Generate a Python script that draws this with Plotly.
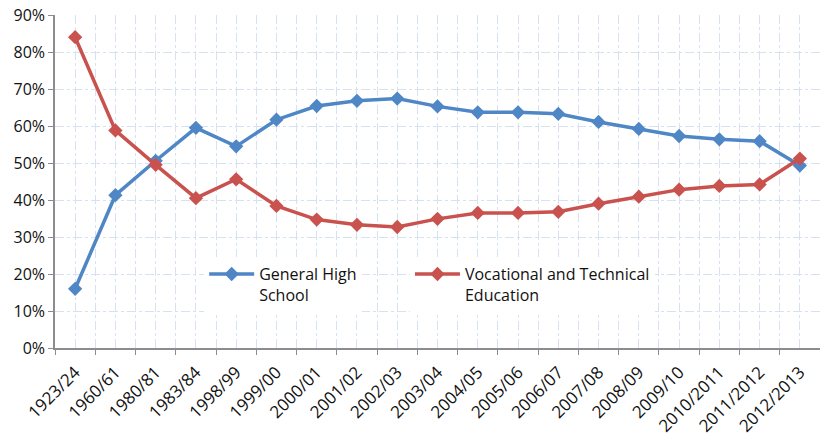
import plotly.graph_objects as go

categories = ["1923/24", "1960/61", "1980/81", "1983/84", "1998/99", "1999/00",
              "2000/01", "2001/02", "2002/03", "2003/04", "2004/05", "2005/06",
              "2006/07", "2007/08", "2008/09", "2009/10", "2010/2011", "2011/2012",
              "2012/2013"]
general_high_school = [0.16, 0.413, 0.506, 0.595, 0.545, 0.617, 0.654, 0.668, 0.674,
                       0.653, 0.637, 0.637, 0.633, 0.611, 0.592, 0.573, 0.564, 0.559, 0.493]
vocational_technical = [0.84, 0.588, 0.495, 0.405, 0.456, 0.384, 0.347, 0.333, 0.327,
                        0.349, 0.365, 0.365, 0.368, 0.39, 0.409, 0.428, 0.438, 0.442, 0.512]
y_ticks = [0.0, 0.1, 0.2, 0.3, 0.4, 0.5, 0.6, 0.7, 0.8, 0.9]

FONT = "Open Sans"
BLUE = "#4f86c6"
RED = "#c9524e"
GRID = "#d6e2f1"
AXIS = "#8c8c8c"
TEXT = "#111111"

idx = list(range(len(categories)))

fig = go.Figure()
fig.add_trace(go.Scatter(
    x=idx, y=general_high_school, name="General High<br>School",
    mode="lines+markers", legend="legend",
    line=dict(color=BLUE, width=3.5),
    marker=dict(symbol="diamond", size=11, color=BLUE),
))
fig.add_trace(go.Scatter(
    x=idx, y=vocational_technical, name="Vocational and Technical<br>Education",
    mode="lines+markers", legend="legend2",
    line=dict(color=RED, width=3.5),
    marker=dict(symbol="diamond", size=11, color=RED),
))

legend_common = dict(
    xanchor="left", yanchor="top", bgcolor="white", valign="top",
    itemwidth=45, font=dict(family=FONT, size=16, color=TEXT),
)

fig.update_layout(
    width=820, height=441,
    margin=dict(l=55, r=0, t=15, b=93, autoexpand=False),
    paper_bgcolor="white", plot_bgcolor="white",
    font=dict(family=FONT, size=16, color=TEXT),
    showlegend=True,
    legend=dict(x=0.195, y=0.273, **legend_common),
    legend2=dict(x=0.464, y=0.273, **legend_common),
)

fig.update_xaxes(
    type="linear", range=[-0.5, len(categories) - 0.5], automargin=False,
    tickmode="array", tickvals=idx, ticktext=categories,
    tickangle=-45, ticks="", showgrid=True, ticklabelstandoff=6,
    gridcolor=GRID, griddash="dashdot", gridwidth=1,
    minor=dict(tick0=-0.5, dtick=1, ticks="outside", ticklen=5, tickcolor=AXIS,
               showgrid=True, gridcolor=GRID, griddash="dashdot", gridwidth=1),
    showline=True, linecolor=AXIS, linewidth=1.5,
    tickfont=dict(family=FONT, size=17, color=TEXT),
    zeroline=False,
)
fig.update_yaxes(
    range=[0, 0.9], automargin=False,
    tickmode="array", tickvals=y_ticks, tickformat=".0%",
    ticks="outside", ticklen=5, tickcolor=AXIS,
    showgrid=True, gridcolor=GRID, griddash="dashdot", gridwidth=1,
    showline=True, linecolor=AXIS, linewidth=1.5,
    tickfont=dict(family=FONT, size=16, color=TEXT),
    zeroline=False,
)

fig.write_html("out.html", config={"displayModeBar": False},
               post_script="document.body.style.margin='0';")
